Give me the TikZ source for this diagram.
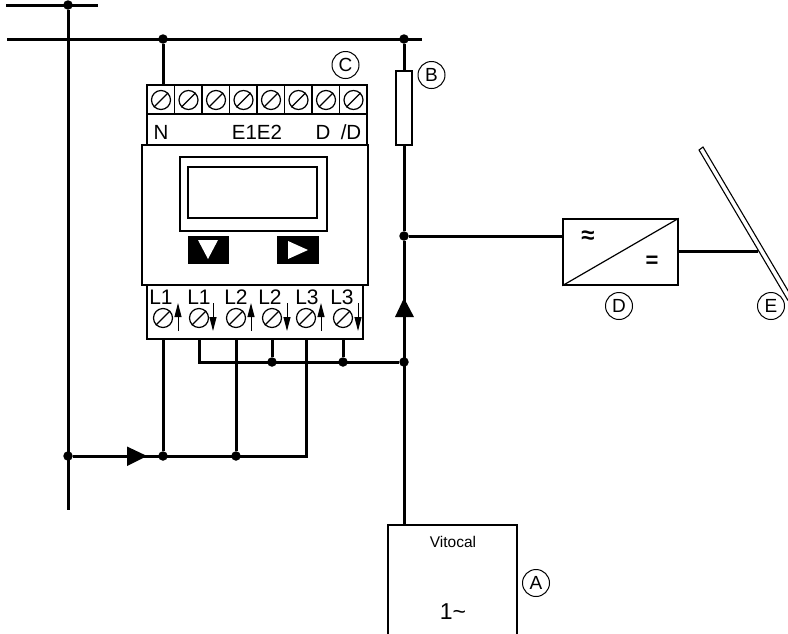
\documentclass[tikz,border=0pt]{standalone}
\usepackage{fontspec}
\setmainfont{Liberation Sans}
\usetikzlibrary{arrows.meta}
\tikzset{
  wire/.style={line width=3pt},
  box/.style={draw, line width=1.4pt, inner sep=0pt},
  dot/.style={circle, fill=black, inner sep=0pt, minimum size=9.5pt},
  screw/.style={circle, draw, line width=1.2pt, inner sep=0pt, minimum size=19pt},
  tag/.style={circle, draw, line width=1pt, inner sep=0pt, minimum size=27pt, font=\fontsize{19}{19}\selectfont},
  term/.style={inner sep=0pt, font=\fontsize{20.5}{20}\selectfont},
  termL/.style={inner sep=0pt, font=\fontsize{21}{21}\selectfont},
  flow/.style={line width=1pt, -{Triangle[length=14pt,width=7pt]}}
}

\begin{document}
\begin{tikzpicture}[x=1pt, y=-1pt]
\useasboundingbox (0,0) rectangle (788,633);

% Mains
\coordinate (topL) at (6,5);
\coordinate (topR) at (98,5);
\coordinate (busL) at (7,39);
\coordinate (busEnd) at (422,39);
\coordinate (stemEnd) at (68,510);
\node[dot] (topJ) at (68,5) {};
\node[dot] (busN) at (163,39) {};
\node[dot] (busR) at (404,39) {};
\draw[wire] (topL) -- (topR);
\draw[wire] (topJ) -- (stemEnd);
\draw[wire] (busL) -- (busEnd);

% Meter, upper terminals
\node[box, minimum width=220pt, minimum height=60pt] (upper) at (257,115) {};
\draw[line width=1.2pt] (147,114) -- (367,114);
\foreach \i in {1,...,7} {
    \pgfmathsetmacro\x{147 + 27.5*\i}
    \draw[line width=1.2pt] (\x,85) -- (\x,114);
}
\foreach \i in {0,...,7} {
    \pgfmathsetmacro\x{161 + 27.5*\i}
    \node[screw] (top\i) at (\x,100) {};
    \draw[line width=1.2pt] (top\i.south west) -- (top\i.north east);
}
\node[term] (lblN) at (161,132) {N};
\node[term] (lblE) at (257,132) {E1E2};
\node[term] (lblD) at (323,132) {D};
\node[term] (lblND) at (351,132) {/D};

% Meter, body and display
\node[box, fill=white, minimum width=226pt, minimum height=140pt] (body) at (255,215) {};
\node[box, minimum width=147pt, minimum height=74pt] (dispOuter) at (253.5,194) {};
\node[box, minimum width=129pt, minimum height=51pt] (dispInner) at (252.5,192.5) {};
\node[fill=black, inner sep=0pt, minimum width=41pt, minimum height=28pt] (btnDown) at (208.5,250) {};
\node[fill=black, inner sep=0pt, minimum width=42pt, minimum height=28pt] (btnRight) at (298,250) {};
\fill[white] (198,240) -- (218,240) -- (208,259) -- cycle;
\fill[white] (288,241) -- (288,259) -- (308,250) -- cycle;

% Meter, lower terminals
\node[box, minimum width=216pt, minimum height=54pt] (lower) at (255,312) {};
\foreach \x/\name in {163/La, 199/Lb, 236/Lc, 272/Ld, 306/Le, 343/Lf} {
    \node[screw] (\name) at (\x,318) {};
    \draw[line width=1.2pt] (\name.south west) -- (\name.north east);
}
\node[termL] (lblLa) at (161,297) {L1};
\node[termL] (lblLb) at (199,297) {L1};
\node[termL] (lblLc) at (236,297) {L2};
\node[termL] (lblLd) at (270,297) {L2};
\node[termL] (lblLe) at (307,297) {L3};
\node[termL] (lblLf) at (342,297) {L3};
\foreach \x in {178,251,321} {
    \draw[flow] (\x,331) -- (\x,303);
}
\foreach \x in {213,287,358} {
    \draw[flow] (\x,303) -- (\x,331);
}

% Meter wiring
\node[dot] (feedA) at (68,456) {};
\node[dot] (feedB) at (163,456) {};
\node[dot] (feedC) at (236,456) {};
\coordinate (feedD) at (306,456);
\coordinate (retA) at (199,362);
\node[dot] (retB) at (272,362) {};
\node[dot] (retC) at (343,362) {};
\node[dot] (retD) at (404,362) {};
\draw[wire] (busN) -- (163,85);
\draw[wire, line join=miter] (feedA) -- (feedD) -- (306,339);
\draw[wire] (feedB) -- (163,339);
\draw[wire] (feedC) -- (236,339);
\draw[wire, line join=miter] (199,339) -- (retA) -- (retD);
\draw[wire] (retB) -- (272,339);
\draw[wire] (retC) -- (343,339);
\fill (127,446.5) -- (127,466) -- (147,456) -- cycle;

% Supply line
\node[box, minimum width=16pt, minimum height=74pt] (fuse) at (404,108) {};
\node[dot] (invJ) at (404,236) {};
\node[box, minimum width=129pt, minimum height=134pt] (vitocal) at (452.5,592) {};
\coordinate (vitoIn) at (404,525);
\draw[wire] (busR) -- (fuse.north);
\draw[wire] (fuse.south) -- (invJ);
\draw[wire] (invJ) -- (vitoIn);
\fill (395,317) -- (414,317) -- (404,298) -- cycle;
\node[inner sep=0pt, font=\fontsize{15.5}{16}\selectfont] (vitoName) at (453,542) {Vitocal};
\node[inner sep=0pt, font=\fontsize{23}{23}\selectfont] (vitoPhase) at (453,612) {1\char`~};

% Inverter and panel
\node[box, minimum width=115pt, minimum height=66pt] (inv) at (620.5,252) {};
\draw[line width=1.2pt] (inv.south west) -- (inv.north east);
\node[inner sep=0pt, font=\bfseries\fontsize{24}{24}\selectfont] (invAC) at (588,237) {≈};
\node[inner sep=0pt, font=\bfseries\fontsize{22}{22}\selectfont] (invDC) at (652,262) {=};
\coordinate (invIn) at (563,236);
\coordinate (invOut) at (678,251);
\coordinate (panelIn) at (758,251);
\draw[wire] (invJ) -- (invIn);
\draw[wire] (invOut) -- (panelIn);
\draw[line width=1.1pt] (788,300.5) -- (699,150) -- (703,147) -- (790,294);

% Tags
\node[tag] (tagA) at (536,583) {A};
\node[tag] (tagB) at (431.5,75) {B};
\node[tag] (tagC) at (345.5,65) {C};
\node[tag] (tagD) at (619,306) {D};
\node[tag] (tagE) at (771,306) {E};
\end{tikzpicture}
\end{document}
